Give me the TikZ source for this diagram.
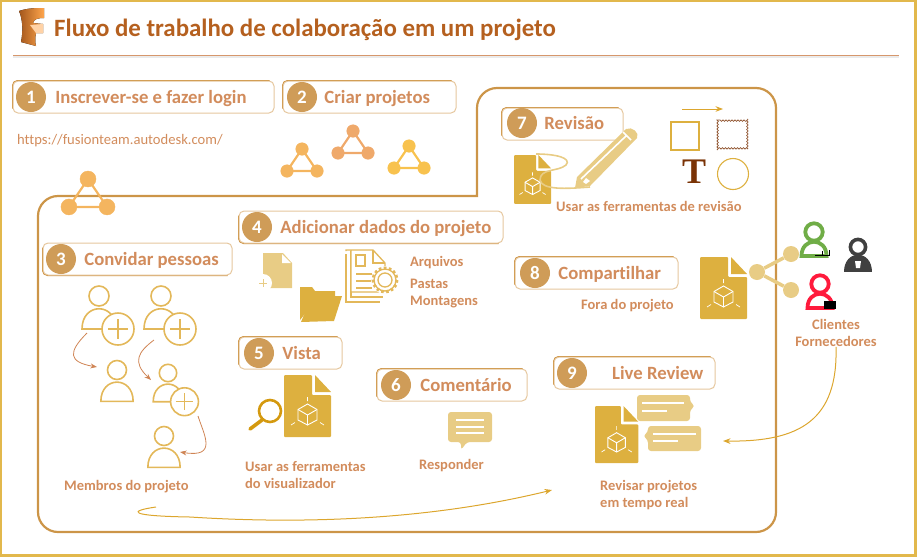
\documentclass[tikz,border=0pt]{standalone}
\usepackage{fontspec}
\setmainfont[Ligatures=NoCommon]{Carlito}
\newfontfamily\toolfont{Liberation Serif}
\usetikzlibrary{positioning,arrows.meta,calc}
\usetikzlibrary{decorations.pathmorphing}
\definecolor{framegold}{HTML}{E2B84C}
\definecolor{filegold}{HTML}{DDB03F}
\definecolor{palegold}{HTML}{E8CC85}
\definecolor{linegold}{HTML}{E3B85A}
\definecolor{panelline}{HTML}{CC9548}
\definecolor{stepdark}{HTML}{C8882F}
\definecolor{steplight}{HTML}{E6C79E}
\definecolor{stepfill}{HTML}{CF9C58}
\definecolor{titlecol}{HTML}{B5601F}
\definecolor{textcol}{HTML}{D28C5C}
\definecolor{arrowcol}{HTML}{CF8454}
\definecolor{flowcol}{HTML}{DCA62E}
\definecolor{netone}{HTML}{F4B55F}
\definecolor{nettwo}{HTML}{EFA96B}
\definecolor{netthree}{HTML}{F8C24E}
\definecolor{lensgold}{HTML}{D4990F}
\definecolor{clientgreen}{HTML}{70AD47}
\definecolor{clientred}{HTML}{FF1A3C}
\definecolor{clientdark}{HTML}{404040}
\definecolor{toolbrown}{HTML}{7A3306}

\tikzset{
	docfile/.pic={
		\fill[filegold,rounded corners=1] (0,0) -- (28,0) -- (28,20) -- (47,20) -- (47,62) -- (0,62) -- cycle;
		\fill[filegold] (31,0) -- (47,17) -- (31,17) -- cycle;
		\draw[white,line width=.9] (23.5,29) -- (33,34.5) -- (33,45) -- (23.5,50) -- (14,45) -- (14,34.5) -- cycle;
		\draw[white,line width=.9] (14,34.5) -- (23.5,40) -- (33,34.5) (23.5,40) -- (23.5,50);
		\draw[white,line width=.7] (23.5,22) -- (23.5,26) (7,50) -- (11,47.5) (40,50) -- (36,47.5);
	},
	person/.pic={
		\draw[linegold,line width=1.6] (0,0) circle (10);
		\draw[linegold,line width=1.6] (-17,33) .. controls (-17,6) and (17,6) .. (17,33) -- cycle;
	},
	contact/.pic={
		\draw[pic actions,line width=3.8] (0,0) circle (8.7);
		\draw[pic actions,line width=3.8] (-12.5,24) .. controls (-12.5,5) and (12.5,5) .. (12.5,24) -- cycle;
	},
	personplus/.pic={
		\draw[linegold,line width=1.6] (0,0) circle (10);
		\draw[linegold,line width=1.6] (-17,33) .. controls (-17,6) and (17,6) .. (17,33) -- cycle;
		\draw[linegold,line width=1.6,fill=white] (19,33) circle (16);
		\draw[linegold,line width=1.2] (9,33) -- (29,33) (19,23) -- (19,43);
	},
	network/.pic={
		\draw[pic actions,fill=none,line width=2.2] (0,0) -- (-15,22) -- (15,22) -- cycle;
		\fill[pic actions] (0,0) circle (6.3) (-15,22) circle (6.3) (15,22) circle (6.3);
	}
}

\begin{document}
\begin{tikzpicture}[x=1pt,y=-1pt,>=Stealth]

	% Styles for the steps
	\tikzstyle{stepbox}=[draw=steplight,line width=1,rounded corners=5,fill=white,inner sep=0pt]
	\tikzstyle{darktop}=[append after command={\pgfextra{\draw[stepdark,line width=1,rounded corners=5] ($(\tikzlastnode.south west)+(0,-5)$) -- (\tikzlastnode.north west) -- ($(\tikzlastnode.north east)+(-5,0)$);}}]
	\tikzstyle{darkbottom}=[append after command={\pgfextra{\draw[stepdark,line width=1,rounded corners=5] ($(\tikzlastnode.north west)+(0,5)$) -- (\tikzlastnode.south west) -- ($(\tikzlastnode.south east)+(-5,0)$);}}]
	\tikzstyle{stepnum}=[circle,fill=stepfill,text=white,minimum size=30,inner sep=0pt,font=\fontsize{19}{19}\selectfont\bfseries]
	\tikzstyle{steptitle}=[text=textcol,inner sep=0pt,text height=16,text depth=4,font=\fontsize{18.7}{20}\selectfont\bfseries]
	\tikzstyle{notetext}=[text=textcol,inner sep=0pt,align=left,font=\fontsize{14.5}{17}\selectfont\bfseries]
	\tikzstyle{curvearrow}=[->,arrowcol,line width=.8]
	\tikzstyle{flowarrow}=[->,flowcol,line width=1]

	\useasboundingbox (0,0) rectangle (917,557);

	% Frame and header
	\draw[framegold,line width=2.6] (1,1) rectangle (915.5,555.5);
	\draw[black!8,line width=2] (13,57) -- (899,57);
	\draw[textcol!90,line width=.8] (13,55.5) -- (899,55.5);
	\fill[left color=titlecol!90!black,right color=orange!70] (19,11) .. controls (28,8) and (36,8) .. (44,8) -- (44,18) .. controls (38,18) and (34,19) .. (33,23) -- (43,24) -- (43,33) -- (36,33) .. controls (35,38) and (35,42) .. (36,46) -- (21,42) .. controls (23,32) and (23,20) .. (19,11) -- cycle;
	\fill[orange!35] (30,25) -- (43,24) -- (43,33) -- (36,33) -- cycle;
	\node[text=titlecol,anchor=west,inner sep=0pt,font=\fontsize{24.9}{25}\selectfont\bfseries] (title) at (54,30) {Fluxo de trabalho de colaboração em um projeto};

	% Panel around the project
	\draw[panelline,line width=2.2] (477,196) -- (477,108) .. controls (477,97) and (486,88) .. (497,88) -- (756,88) .. controls (767,88) and (776,97) .. (776,108) -- (776,512) .. controls (776,523) and (767,532) .. (756,532) -- (58,532) .. controls (47,532) and (38,523) .. (38,512) -- (38,216) .. controls (38,205) and (47,196) .. (58,196) -- cycle;

	% Step 1 and 2
	\node[stepbox,darktop,minimum width=261,minimum height=32] (box1) at (143.5,97) {};
	\node[stepnum] (num1) at (31,97) {1};
	\node[steptitle,right=9pt of num1] (title1) {Inscrever-se e fazer login};
	\node[notetext,anchor=west,font=\fontsize{14.6}{17}\selectfont] (url) at (17,141) {https://fusionteam.autodesk.com/};
	\node[stepbox,darktop,minimum width=173,minimum height=32] (box2) at (369.5,97) {};
	\node[stepnum] (num2) at (302,97) {2};
	\node[steptitle,right=7pt of num2] (title2) {Criar projetos};
	\pic[draw=netone,fill=netone] (net1) at (302,149) {network};
	\pic[draw=nettwo,fill=nettwo] (net2) at (353,131) {network};
	\pic[draw=netthree,fill=netthree] (net3) at (409,146) {network};
	\pic[scale=1.27,draw=netone,fill=netone] (net4) at (88,179) {network};

	% Step 3
	\node[stepbox,darkbottom,minimum width=189,minimum height=32] (box3) at (137.5,259) {};
	\node[stepnum] (num3) at (61,259) {3};
	\node[steptitle,right=8pt of num3] (title3) {Convidar pessoas};
	\pic (guest1) at (99,296) {personplus};
	\pic (guest2) at (161,296) {personplus};
	\pic[scale=.95] (member1) at (117,370) {person};
	\pic[scale=.87] (guest3) at (168,373) {personplus};
	\pic[scale=.95] (member2) at (164,436) {person};
	\coordinate (g1out) at (87,333);
	\coordinate (m1in) at (97,367);
	\coordinate (g2out) at (154,340);
	\coordinate (g3in) at (151,380);
	\coordinate (g3out) at (198,416);
	\coordinate (m2in) at (180,452);
	\draw[curvearrow] (g1out) .. controls (68,352) and (68,362) .. (m1in);
	\draw[curvearrow] (g2out) .. controls (138,352) and (132,362) .. (g3in);
	\draw[curvearrow] (g3out) .. controls (204,435) and (218,458) .. (m2in);
	\node[notetext,anchor=west] (members) at (64,487) {Membros do projeto};

	% Step 4
	\node[stepbox,darkbottom,minimum width=264,minimum height=32] (box4) at (371,227) {};
	\node[stepnum] (num4) at (257,227) {4};
	\node[steptitle,right=8pt of num4] (title4) {Adicionar dados do projeto};
	\fill[palegold] (263,253) -- (283,253) -- (292,263) -- (292,288) -- (263,288) -- cycle;
	\fill[white] (282,254) -- (291,263) -- (282,263) -- cycle;
	\fill[white] (263,283) circle (9);
	\draw[palegold,line width=1] (259,283) -- (267,283) (263,279) -- (263,287);
	\fill[filegold] (300,287) -- (312,287) -- (315,291) -- (335,291) -- (335,297) -- (312,297) -- (308,310) -- (300,320) -- cycle;
	\fill[filegold] (312,296) -- (342,296) -- (334,321) -- (301,322) -- cycle;
	\draw[linegold,line width=1.3] (351,251) -- (351,297) -- (383,297);
	\draw[linegold,line width=1.3] (346,254) -- (346,302) -- (380,302);
	\draw[linegold,line width=1.3,fill=white] (346,251) -- (346,250) -- (373,250) -- (385,263) -- (385,292) -- (351,292) -- (351,250);
	\draw[linegold,line width=1.3] (373,250) -- (373,263) -- (385,263);
	\draw[linegold,line width=1.3] (356,255) rectangle (365,266);
	\draw[linegold,line width=1.3] (356,274) -- (372,274) (356,281) -- (372,281) (356,288) -- (372,288);
	\fill[white] (385,280) circle (14);
	\draw[linegold,line width=3,dash pattern=on 2.6 off 2.4] (385,280) circle (12);
	\draw[linegold,line width=1.3] (385,280) circle (11) (385,280) circle (7);
	\node[notetext,anchor=west] (files) at (410,263) {Arquivos};
	\node[notetext,anchor=west] (folders) at (410,284) {Pastas};
	\node[notetext,anchor=west] (assemblies) at (410,302) {Montagens};

	% Step 5
	\node[stepbox,darktop,minimum width=103,minimum height=32] (box5) at (290.5,353) {};
	\node[stepnum] (num5) at (259,353) {5};
	\node[steptitle,right=8pt of num5] (title5) {Vista};
	\pic (doc5) at (284,375) {docfile};
	\draw[lensgold,line width=2.6] (270,411) circle (11);
	\draw[lensgold,line width=3.6,line cap=round] (262,420) -- (250,429);
	\node[notetext,anchor=west] (viewer) at (245,475) {Usar as ferramentas\\do visualizador};

	% Step 6
	\node[stepbox,darktop,minimum width=150,minimum height=32] (box6) at (452,385) {};
	\node[stepnum] (num6) at (396,385) {6};
	\node[steptitle,right=9pt of num6] (title6) {Comentário};
	\fill[palegold,rounded corners=3] (448,412) -- (492,412) -- (492,442) -- (467,442) -- (461,450) -- (461,442) -- (448,442) -- cycle;
	\draw[white,line width=1.3] (456,420) -- (484,420) (456,427) -- (484,427) (456,433) -- (484,433);
	\node[notetext,anchor=west] (reply) at (419,466) {Responder};

	% Step 7
	\node[stepbox,darktop,minimum width=121,minimum height=32] (box7) at (562.5,124) {};
	\node[stepnum] (num7) at (522,123) {7};
	\node[steptitle,right=7pt of num7] (title7) {Revisão};
	\pic[scale=.79] (doc7) at (514,155) {docfile};
	\draw[palegold,line width=1.6] (536,154) .. controls (556,154) and (572,158) .. (566,165) .. controls (558,172) and (540,168) .. (540,180) .. controls (542,190) and (565,189) .. (590,187);
	\fill[palegold] (575,188) -- (577,177) -- (626,129) .. controls (632,126) and (640,133) .. (637,138) -- (590,186) -- cycle;
	\draw[white,line width=1.6] (581,179) -- (626,136) (623,132) -- (631,140);
	\fill[white] (583,182) -- (586,178) -- (590,181) -- (586,184) -- cycle;
	\coordinate (toolstart) at (682,109);
	\coordinate (toolend) at (723,109);
	\draw[flowarrow] (toolstart) -- (toolend);
	\draw[filegold,line width=1.3] (671,122) rectangle (699,150);
	\draw[toolbrown!80,line width=.8,decorate,decoration={bumps,segment length=6pt,amplitude=1.3pt}] (717,120) rectangle (748,149);
	\node[text=toolbrown,inner sep=0pt,font=\fontsize{36}{36}\selectfont\toolfont\bfseries] (tooltext) at (694,172) {T};
	\draw[filegold,line width=1.1] (733,174) circle (15.5);
	\node[notetext,anchor=west] (revtools) at (556,206) {Usar as ferramentas de revisão};

	% Step 8
	\node[stepbox,darktop,minimum width=163,minimum height=32] (box8) at (596.5,273) {};
	\node[stepnum] (num8) at (535,273) {8};
	\node[steptitle,right=8pt of num8] (title8) {Compartilhar};
	\node[notetext,anchor=west] (outside) at (581,306) {Fora do projeto};
	\pic (doc8) at (700,257) {docfile};
	\node[circle,fill=palegold,minimum size=16,inner sep=0pt] (hub) at (757,272) {};
	\node[circle,fill=palegold,minimum size=16,inner sep=0pt] (hubtop) at (791,254) {};
	\node[circle,fill=palegold,minimum size=16,inner sep=0pt] (hubbot) at (791,290) {};
	\draw[palegold,line width=3.5] (hub) -- (hubtop);
	\draw[palegold,line width=3.5] (hub) -- (hubbot);
	\pic[draw=clientgreen] (contact1) at (814,232) {contact};
	\draw[black,line width=.8] (815,255) -- (830,255) (822,255) -- (822,251) (829,255) -- (829,250);
	\fill[clientdark] (844,272) .. controls (844,249) and (872,249) .. (872,272) -- cycle;
	\draw[clientdark,line width=3.6,fill=white] (858,247) circle (7.6);
	\fill[white] (855,261) -- (861,261) -- (860,268) -- (856,268) -- cycle;
	\pic[draw=clientred] (contact2) at (820,284) {contact};
	\fill[black] (824,301) rectangle (836,309);
	\node[notetext,align=center] (contacts) at (836,333) {Clientes\\Fornecedores};

	% Step 9
	\node[stepbox,darktop,minimum width=161,minimum height=32] (box9) at (634.5,373) {};
	\node[stepnum] (num9) at (572,373) {9};
	\node[steptitle,anchor=west] (title9) at (612,373) {Live Review};
	\pic[scale=.92] (doc9) at (595,406) {docfile};
	\fill[palegold,rounded corners=3] (637,395) -- (690,395) -- (690,402) -- (695,406) -- (690,410) -- (690,421) -- (637,421) -- cycle;
	\draw[white,line width=1.2] (642,403) -- (684,403) (642,411) -- (667,411);
	\fill[palegold,rounded corners=3] (648,426) -- (701,426) -- (701,451) -- (648,451) -- (648,440) -- (643,436) -- (648,432) -- cycle;
	\draw[white,line width=1.2] (653,434) -- (696,434) (653,441) -- (678,441);
	\node[notetext,anchor=west] (realtime) at (600,495) {Revisar projetos\\em tempo real};

	% Flow between the parts
	\coordinate (flowstart) at (156,507);
	\coordinate (flowend) at (552,490);
	\coordinate (livein) at (723,441);
	\draw[flowarrow] (flowstart) .. controls (128,511) and (128,516) .. (190,517) .. controls (330,526) and (450,515) .. (flowend);
	\draw[flowarrow] (contacts.south) .. controls (838,420) and (800,442) .. (livein);

\end{tikzpicture}
\end{document}
